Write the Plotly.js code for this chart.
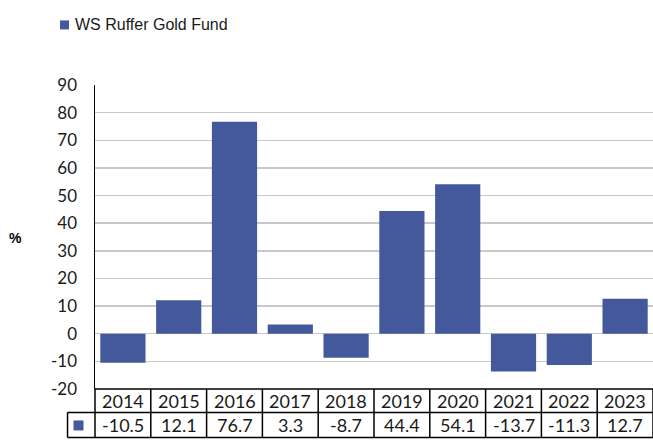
<!DOCTYPE html>
<html>
<head>
<meta charset="utf-8">
<script src="https://cdn.plot.ly/plotly-3.0.1.min.js"></script>
<style>html,body{margin:0;padding:0;background:#fff;}#chart{width:653px;height:440px;}</style>
</head>
<body>
<div id="chart"></div>
<script>
var years = ['2014','2015','2016','2017','2018','2019','2020','2021','2022','2023'];
var fundValues = [-10.5, 12.1, 76.7, 3.3, -8.7, 44.4, 54.1, -13.7, -11.3, 12.7];
var seriesName = 'WS Ruffer Gold Fund';
var yTicks = [-20,-10,0,10,20,30,40,50,60,70,80,90];

var barColor = '#44599c';
var W = 653, H = 440, mL = 94.5, mR = 0, mT = 85, mB = 51.4;
var plotH = H - mT - mB, plotW = W - mL - mR;
function py(px){ return -(px - (H - mB)) / plotH; } // pixel y -> paper y
function pxr(px){ return (px - mL) / plotW; }

var rowTop = py(388.6), rowMid = py(412), rowBot = py(437);
var n = years.length;

var shapes = [];
var lineStyle = {color:'#000', width:1.5};
shapes.push({type:'line', xref:'paper', yref:'paper', x0:0, x1:1.05, y0:rowTop, y1:rowTop, line:lineStyle});
shapes.push({type:'line', xref:'paper', yref:'paper', x0:pxr(67), x1:1.05, y0:rowMid, y1:rowMid, line:lineStyle});
shapes.push({type:'line', xref:'paper', yref:'paper', x0:pxr(67), x1:1.05, y0:rowBot, y1:rowBot, line:lineStyle});
for (var i = 0; i <= n; i++) {
  shapes.push({type:'line', xref:'paper', yref:'paper', x0:i/n, x1:i/n, y0:rowTop, y1:rowBot, line:lineStyle});
}
shapes.push({type:'line', xref:'paper', yref:'paper', x0:pxr(67), x1:pxr(67), y0:rowMid, y1:rowBot, line:lineStyle});
// legend key in table
shapes.push({type:'rect', xref:'paper', yref:'paper', x0:pxr(73), x1:pxr(83), y0:py(430), y1:py(420), fillcolor:barColor, line:{width:0}});
// top legend key
shapes.push({type:'rect', xref:'paper', yref:'paper', x0:pxr(59.5), x1:pxr(68.5), y0:py(29.5), y1:py(20.5), fillcolor:barColor, line:{width:0}});

var cellFont = {family:'Lato, "Open Sans", sans-serif', size:18, color:'#1a1a1a'};
var annotations = [];
for (var j = 0; j < n; j++) {
  var cx = (j + 0.5) / n;
  annotations.push({xref:'paper', yref:'paper', x:cx, y:(rowTop+rowMid)/2, text:years[j], showarrow:false, font:cellFont, xanchor:'center', yanchor:'middle'});
  annotations.push({xref:'paper', yref:'paper', x:cx, y:(rowMid+rowBot)/2, text:fundValues[j].toFixed(1), showarrow:false, font:cellFont, xanchor:'center', yanchor:'middle'});
}
annotations.push({xref:'paper', yref:'paper', x:pxr(15), y:py(238), text:'<b>%</b>', showarrow:false, font:{family:'Liberation Sans, Arial', size:14, color:'#000'}, xanchor:'center', yanchor:'middle'});
annotations.push({xref:'paper', yref:'paper', x:pxr(72), y:py(25), text:seriesName, showarrow:false, font:{family:'Liberation Sans, Arial, sans-serif', size:16, color:'#1a1a1a'}, xanchor:'left', yanchor:'middle'});

var data = [{
  type:'bar', x:years, y:fundValues, name:seriesName,
  marker:{color:barColor, line:{width:0}}, showlegend:false
}];

var layout = {
  width:W, height:H,
  margin:{l:mL, r:mR, t:mT, b:mB, pad:0},
  paper_bgcolor:'#fff', plot_bgcolor:'#fff',
  bargap:0.19,
  showlegend:false,
  xaxis:{type:'category', showticklabels:false, ticks:'', showgrid:false, zeroline:false, showline:false, range:[-0.5, 9.5], fixedrange:true},
  yaxis:{range:[-20,90], tickvals:yTicks, ticktext:yTicks.map(String), showgrid:true, gridcolor:'#c8c8c8', gridwidth:1.5,
         zeroline:true, zerolinecolor:'#c8c8c8', zerolinewidth:1.5,
         showline:true, linecolor:'#000', linewidth:1.5, ticks:'', ticklabelstandoff:13,
         tickfont:{family:'Lato, "Open Sans", sans-serif', size:17, color:'#1a1a1a'}, fixedrange:true},
  shapes:shapes,
  annotations:annotations
};
Plotly.newPlot('chart', data, layout, {displayModeBar:false, staticPlot:true});
</script>
</body>
</html>
